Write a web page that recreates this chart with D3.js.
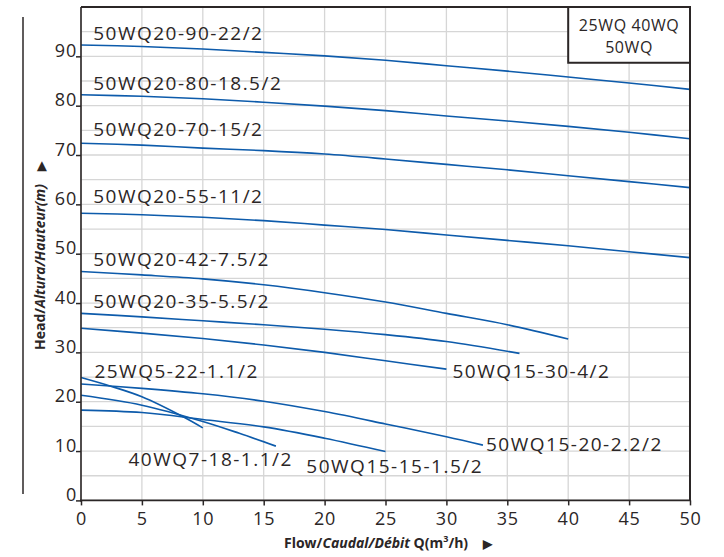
<!DOCTYPE html>
<html><head><meta charset="utf-8">
<script src="https://cdn.jsdelivr.net/npm/d3@7"></script>
<style>
html,body{margin:0;padding:0;background:#fff;}
svg{display:block;}
</style></head>
<body>
<script>
// ---- data ----
const xTicks = [0,5,10,15,20,25,30,35,40,45,50];
const yTicks = [0,10,20,30,40,50,60,70,80,90];
const seriesNames = [
  "50WQ20-90-22/2","50WQ20-80-18.5/2","50WQ20-70-15/2","50WQ20-55-11/2",
  "50WQ20-42-7.5/2","50WQ20-35-5.5/2","50WQ15-30-4/2","50WQ15-20-2.2/2",
  "50WQ15-15-1.5/2","40WQ7-18-1.1/2","25WQ5-22-1.1/2"
];
const s90 = [[0,92.3],[5,92.0],[10,91.5],[15,90.8],[20,90.1],[25,89.2],[30,88.1],[35,87.0],[40,85.8],[45,84.6],[50,83.3]];
const s80 = [[0,82.2],[5,81.9],[10,81.4],[15,80.7],[20,79.9],[25,79.0],[30,77.9],[35,76.9],[40,75.8],[45,74.6],[50,73.3]];
const s70 = [[0,72.4],[5,72.0],[10,71.4],[15,70.9],[20,70.2],[25,69.2],[30,68.1],[35,67.0],[40,65.8],[45,64.6],[50,63.4]];
const s55 = [[0,58.2],[5,57.9],[10,57.4],[15,56.7],[20,55.8],[25,54.9],[30,53.8],[35,52.7],[40,51.6],[45,50.4],[50,49.2]];
const s42 = [[0,46.4],[5,45.7],[10,44.9],[15,43.7],[20,42.1],[25,40.2],[30,37.9],[35,35.6],[40,32.7]];
const s35 = [[0,37.9],[5,37.2],[10,36.4],[15,35.6],[20,34.7],[25,33.6],[30,32.2],[36,29.8]];
const s30 = [[0,34.9],[5,33.9],[10,32.8],[15,31.5],[20,30.0],[25,28.3],[30,26.6]];
const s20 = [[0,23.6],[5,22.7],[10,21.6],[15,20.1],[20,18.0],[25,15.5],[30,12.9],[33,11.2]];
const s15 = [[0,18.3],[5,17.8],[10,16.4],[15,14.9],[20,12.6],[25,9.9]];
const s18 = [[0,21.3],[5,19.3],[10,16.0],[13,13.6],[16,11.0]];
const s22 = [[0,24.9],[2.5,23.1],[5,21.0],[8.5,16.8],[10,14.7]];
const seriesValues = [s90,s80,s70,s55,s42,s35,s30,s20,s15,s18,s22];
// label anchors (data units)
const labelX = [1.0,1.0,1.0,1.0,1.0,1.0,30.5,33.25,18.5,3.9,1.1];
const labelY = [93.3,83.2,73.9,60.2,47.5,39.0,24.8,10.0,5.6,7.0,24.8];
const legendLines = ["25WQ 40WQ","50WQ"];

// ---- drawing ----
const W = 724, H = 557;
const L = 81, R = 690, T = 7, B = 500.4;
const svg = d3.select("body").append("svg").attr("width",W).attr("height",H);
const x = d3.scaleLinear().domain([0,50]).range([L,R]);
const y = d3.scaleLinear().domain([0,100]).range([B,T]);
const ink = "#2b2626";
const FONT = "'Open Sans', 'Noto Sans', sans-serif";

// grid
const gridX = d3.range(0,51,5), gridY = d3.range(0,101,5);
svg.append("g").selectAll("line").data(gridX).join("line")
  .attr("x1",d=>x(d)).attr("x2",d=>x(d)).attr("y1",T).attr("y2",B)
  .attr("stroke","#d6d6d6").attr("stroke-width",1.3);
svg.append("g").selectAll("line").data(gridY).join("line")
  .attr("x1",L).attr("x2",R).attr("y1",d=>y(d)).attr("y2",d=>y(d))
  .attr("stroke","#d6d6d6").attr("stroke-width",1.3);

// curves
const line = d3.line().x(d=>x(d[0])).y(d=>y(d[1])).curve(d3.curveCatmullRom.alpha(0.5));
svg.append("g").selectAll("path").data(seriesValues).join("path")
  .attr("d",line).attr("fill","none").attr("stroke","#0d5bab").attr("stroke-width",1.6);

// curve labels
svg.append("g").selectAll("text").data(seriesNames).join("text")
  .attr("x",(d,i)=>x(labelX[i])).attr("y",(d,i)=>y(labelY[i]))
  .text(d=>d).attr("font-family",FONT).attr("font-size",19)
  .attr("letter-spacing",1.5).attr("fill",ink);

// axes
const xAxis = d3.axisBottom(x).tickValues(xTicks).tickSize(5).tickPadding(6).tickFormat(d3.format("d"));
const gx = svg.append("g").attr("transform",`translate(0,${B})`).call(xAxis);
const yAxis = d3.axisLeft(y).tickValues(yTicks).tickSize(5).tickPadding(4).tickFormat(d3.format("d"));
const gy = svg.append("g").attr("transform",`translate(${L},0)`).call(yAxis);
[gx,gy].forEach(g=>{
  g.select(".domain").remove();
  g.selectAll(".tick line").attr("stroke",ink).attr("stroke-width",1.5);
  g.selectAll(".tick text").attr("font-family",FONT).attr("font-size",18)
    .attr("letter-spacing",0.8).attr("fill",ink);
});
gx.selectAll(".tick text").attr("dy","0.72em").attr("y",12);
gy.selectAll(".tick text").attr("dy","0").attr("y",0).attr("x",-4);

// frame lines
svg.append("line").attr("x1",L).attr("x2",L).attr("y1",T).attr("y2",B+1).attr("stroke",ink).attr("stroke-width",1.6);
svg.append("line").attr("x1",L-1).attr("x2",R+1).attr("y1",B).attr("y2",B).attr("stroke",ink).attr("stroke-width",1.6);
svg.append("line").attr("x1",L).attr("x2",R+1).attr("y1",T).attr("y2",T).attr("stroke",ink).attr("stroke-width",2);
svg.append("line").attr("x1",R).attr("x2",R).attr("y1",T).attr("y2",B).attr("stroke",ink).attr("stroke-width",2);
// outer vertical rule
svg.append("line").attr("x1",23).attr("x2",23).attr("y1",17).attr("y2",494).attr("stroke",ink).attr("stroke-width",1.5);

// legend box
const lbx0 = x(40), lby1 = y(88.7);
svg.append("rect").attr("x",lbx0).attr("y",T).attr("width",R-lbx0).attr("height",lby1-T)
  .attr("fill","#fff").attr("stroke",ink).attr("stroke-width",2);
svg.append("g").selectAll("text").data(legendLines).join("text")
  .attr("x",(lbx0+R)/2).attr("y",(d,i)=>31+i*22).attr("text-anchor","middle")
  .attr("font-family",FONT).attr("font-size",16).attr("letter-spacing",0.6).attr("fill",ink)
  .text(d=>d);

// axis titles
const xt = svg.append("text").attr("x",284).attr("y",548).attr("font-family",FONT)
  .attr("font-size",14).attr("font-weight","bold").attr("fill",ink);
xt.append("tspan").text("Flow/");
xt.append("tspan").attr("font-style","italic").text("Caudal/Débit");
xt.append("tspan").text(" Q(m");
xt.append("tspan").attr("font-size",9).attr("dy",-6).text("3");
xt.append("tspan").attr("dy",6).text("/h)");
xt.append("tspan").attr("dx",15).attr("font-size",12).text("▶");

const yt = svg.append("text").attr("transform","translate(45,350) rotate(-90)")
  .attr("font-family",FONT).attr("font-size",14).attr("font-weight","bold").attr("fill",ink);
yt.append("tspan").text("Head/");
yt.append("tspan").attr("font-style","italic").text("Altura/Hauteur(m)");
yt.append("tspan").attr("dx",13).attr("font-size",12).text("▶");
</script>
</body></html>
